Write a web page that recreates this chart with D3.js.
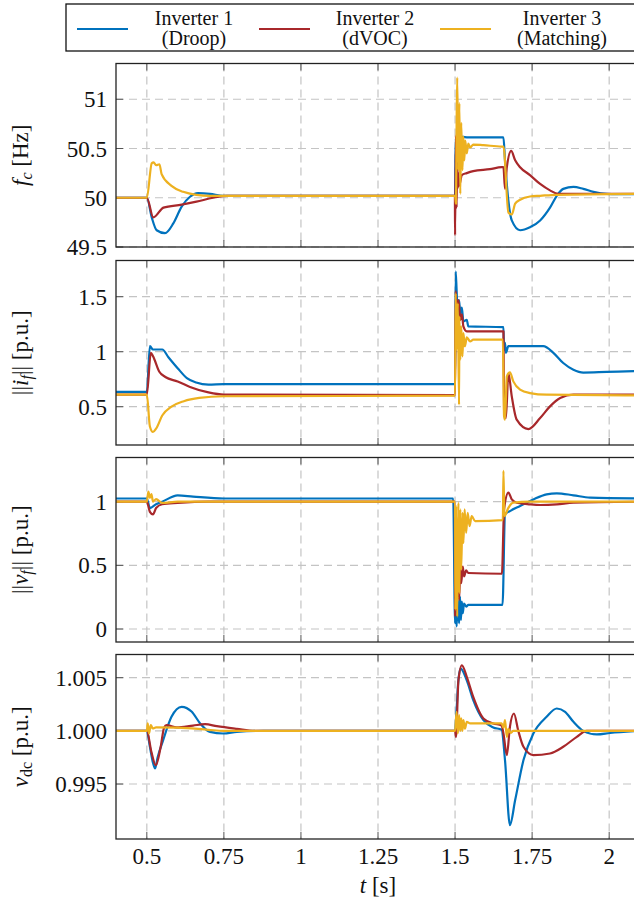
<!DOCTYPE html>
<html lang="en">
<head>
<meta charset="UTF-8">
<link rel="icon" href="data:,">
<style>
body { margin: 0; background: #fff; }
svg text { font-family: "Liberation Serif", "DejaVu Serif", serif; fill: #111; }
.tick-label { font-size: 23px; }
.axis-label { font-size: 23px; }
.legend-text { font-size: 20px; }
</style>
<script src="https://cdn.jsdelivr.net/npm/d3@7"></script>
</head>
<body>
<svg id="chart"></svg>
<script>
const W = 634, H = 905;

// series names / colours
const seriesNames = [["Inverter 1", "(Droop)"], ["Inverter 2", "(dVOC)"], ["Inverter 3", "(Matching)"]];
const seriesColors = ["#0072BD", "#A8282B", "#EDB120"];

// x ticks
const tTicks = [0.5, 0.75, 1, 1.25, 1.5, 1.75, 2];
const tTickLabels = ["0.5", "0.75", "1", "1.25", "1.5", "1.75", "2"];

// panel 1: f_c [Hz]  ([t, value])
const fcTicks = [49.5, 50, 50.5, 51];
const fcTickLabels = ["49.5", "50", "50.5", "51"];
const fcDroop = [[0.4,50],[0.5,50],[0.516,49.8],[0.532,49.67],[0.559,49.64],[0.586,49.74],[0.613,49.91],[0.64,50.01],[0.666,50.047],[0.705,50.04],[0.748,50.02],[1.5,50.02],
  [1.502,50.6],[1.506,50.45],[1.51,50.62],[1.515,50.56],[1.52,50.62],[1.543,50.612],[1.657,50.612],[1.662,50.38],[1.673,49.97],[1.684,49.77],[1.711,49.67],[1.743,49.70],
  [1.776,49.77],[1.808,49.90],[1.83,50.02],[1.851,50.09],[1.884,50.11],[1.916,50.09],[1.949,50.06],[1.992,50.04],[2.1,50.035]];
const fcDvoc = [[0.4,50],[0.5,50],[0.521,49.8],[0.554,49.9],[0.613,49.93],[0.661,49.96],[0.715,50.0],[0.76,50.02],[1.4995,50.02],
  [1.5,49.62],[1.503,50.63],[1.505,49.9],[1.507,50.4],[1.509,50.1],[1.511,50.25],[1.513,50.12],[1.516,50.15],[1.522,50.23],[1.538,50.25],[1.559,50.27],[1.613,50.29],[1.651,50.31],
  [1.657,50.31],[1.662,50.09],[1.668,50.31],[1.682,50.476],[1.695,50.38],[1.711,50.31],[1.743,50.23],[1.776,50.14],[1.808,50.075],[1.835,50.04],[2.1,50.04]];
const fcMatch = [[0.4,50],[0.5,50],[0.516,50.35],[0.522,50.36],[0.53,50.33],[0.541,50.34],[0.548,50.24],[0.58,50.12],[0.618,50.06],[0.66,50.03],[0.705,50.02],[1.5,50.02],
  [1.503,49.94],[1.505,50.72],[1.507,51.22],[1.511,50.28],[1.514,50.96],[1.517,50.04],[1.52,50.76],[1.524,50.28],[1.527,50.62],[1.53,50.38],[1.533,50.58],[1.538,50.45],
  [1.543,50.55],[1.549,50.51],[1.559,50.54],[1.592,50.534],[1.651,50.52],[1.657,50.52],[1.673,49.85],[1.684,49.83],[1.695,49.94],[1.711,49.98],[1.743,50.013],[1.776,50.02],
  [1.83,50.03],[2.1,50.04]];

// panel 2: ||i_f|| [p.u.]
const ifTicks = [0.5, 1, 1.5];
const ifTickLabels = ["0.5", "1", "1.5"];
const ifDroop = [[0.4,0.635],[0.5,0.635],[0.51,1.05],[0.52,1.02],[0.55,1.02],[0.57,0.95],[0.6,0.85],[0.63,0.76],[0.66,0.72],[0.7,0.7],[0.75,0.705],[1.5,0.705],
  [1.502,1.73],[1.505,1.56],[1.509,1.32],[1.513,1.47],[1.517,1.35],[1.522,1.40],[1.527,1.275],[1.538,1.29],[1.543,1.23],[1.657,1.224],
  [1.659,1.018],[1.662,1.08],[1.665,0.99],[1.673,1.05],[1.786,1.05],[1.819,0.99],[1.851,0.897],[1.884,0.836],[1.916,0.81],[1.992,0.816],[2.1,0.824]];
const ifDvoc = [[0.4,0.61],[0.5,0.61],[0.513,0.99],[0.52,0.96],[0.54,0.82],[0.56,0.77],[0.6,0.73],[0.64,0.68],[0.7,0.63],[0.75,0.61],[1.5,0.605],
  [1.502,1.55],[1.505,1.38],[1.511,1.47],[1.517,1.29],[1.522,1.34],[1.527,1.23],[1.538,1.185],[1.657,1.185],[1.659,0.473],[1.665,0.397],[1.673,0.806],[1.684,0.594],
  [1.7,0.382],[1.738,0.297],[1.776,0.397],[1.808,0.503],[1.841,0.579],[1.884,0.609],[2.1,0.61]];
const ifMatch = [[0.4,0.61],[0.5,0.61],[0.51,0.32],[0.52,0.27],[0.53,0.3],[0.55,0.42],[0.58,0.5],[0.62,0.55],[0.67,0.58],[0.75,0.595],[1.5,0.6],
  [1.502,1.53],[1.505,1.02],[1.509,1.44],[1.513,0.518],[1.514,1.32],[1.517,0.927],[1.52,1.23],[1.524,0.957],[1.527,1.17],[1.532,1.048],[1.538,1.13],[1.549,1.094],
  [1.559,1.109],[1.655,1.109],[1.659,0.412],[1.662,0.382],[1.668,0.776],[1.678,0.812],[1.689,0.73],[1.711,0.655],[1.743,0.624],[1.797,0.609],[2.1,0.603]];

// panel 3: ||v_f|| [p.u.]
const vfTicks = [0, 0.5, 1];
const vfTickLabels = ["0", "0.5", "1"];
const vfDroop = [[0.4,1.025],[0.5,1.025],[0.51,0.95],[0.53,0.98],[0.55,1.0],[0.6,1.05],[0.65,1.04],[0.75,1.025],[1.494,1.025],
  [1.5,0.045],[1.503,0.255],[1.505,0.02],[1.509,0.229],[1.513,0.045],[1.516,0.255],[1.519,0.07],[1.522,0.216],[1.525,0.124],[1.529,0.2],[1.536,0.176],[1.543,0.19],
  [1.654,0.19],[1.662,0.9],[1.678,0.926],[1.711,0.966],[1.754,1.018],[1.797,1.058],[1.83,1.066],[1.884,1.05],[1.938,1.032],[2.1,1.026]];
const vfDvoc = [[0.4,1.0],[0.5,1.0],[0.51,0.92],[0.52,0.9],[0.53,0.95],[0.55,0.98],[0.6,0.99],[0.7,1.0],[1.4995,1.0],
  [1.5,0.097],[1.502,0.571],[1.505,0.15],[1.509,0.518],[1.513,0.229],[1.517,0.466],[1.52,0.36],[1.525,0.49],[1.529,0.413],[1.536,0.46],[1.543,0.44],[1.652,0.434],
  [1.659,0.94],[1.673,1.071],[1.684,1.018],[1.7,0.992],[1.743,0.979],[1.776,0.974],[1.83,0.979],[1.884,0.992],[2.1,1.0]];
const vfMatch = [[0.4,1.0],[0.5,1.0],[0.505,1.08],[0.51,1.03],[0.515,1.06],[0.52,1.0],[0.53,1.02],[0.55,0.99],[0.6,1.0],[1.5,1.0],
  [1.501,0.15],[1.504,0.965],[1.507,0.097],[1.511,0.992],[1.514,0.28],[1.517,0.94],[1.52,0.466],[1.524,0.913],[1.527,0.676],[1.531,0.94],[1.536,0.755],[1.541,0.913],
  [1.547,0.808],[1.554,0.887],[1.565,0.847],[1.655,0.855],[1.657,1.242],[1.66,0.887],[1.673,0.952],[1.689,0.992],[1.743,1.0],[2.1,1.0]];

// panel 4: v_dc [p.u.]
const vdcTicks = [0.995, 1.0, 1.005];
const vdcTickLabels = ["0.995", "1.000", "1.005"];
const vdcDroop = [[0.4,1],[0.5,1],[0.51,0.9985],[0.52,0.997],[0.527,0.99647],[0.535,0.9975],[0.553,0.99913],[0.58,1.00132],[0.613,1.00226],[0.646,1.00179],[0.673,1.0007],
  [0.705,0.9999],[0.748,0.99975],[0.792,0.9999],[0.878,1.0],[1.5,1.0],[1.505,1.002],[1.51,1.0045],[1.518,1.00586],[1.538,1.00476],[1.559,1.00289],[1.592,1.001],
  [1.624,1.00032],[1.651,1.0001],[1.662,0.99725],[1.678,0.99114],[1.695,0.99349],[1.722,0.99725],[1.754,0.99975],[1.797,1.00132],[1.83,1.0021],[1.857,1.00179],
  [1.884,1.00085],[1.916,1.0],[1.96,0.99966],[2.003,0.9998],[2.1,1.0]];
const vdcDvoc = [[0.4,1],[0.5,1],[0.515,0.998],[0.529,0.99677],[0.545,0.9985],[0.556,1.0003],[0.564,1.00054],[0.597,1.00032],[0.65,1.0005],[0.689,1.00063],[0.727,1.00044],
  [0.792,1.00019],[0.85,1.0],[1.5,1.0],[1.503,0.99944],[1.511,1.00476],[1.522,1.00617],[1.538,1.00508],[1.559,1.0032],[1.592,1.00117],[1.624,1.0007],[1.651,1.0005],
  [1.657,0.99975],[1.668,0.99772],[1.678,1.00038],[1.691,1.00163],[1.705,1.00002],[1.722,0.9985],[1.754,0.99772],[1.808,0.99787],[1.851,0.9985],[1.895,0.99944],
  [1.927,1.0],[2.1,1.0]];
const vdcMatch = [[0.4,1],[0.5,1],[0.503,1.0007],[0.507,0.99975],[0.513,1.00054],[0.519,1.00023],[0.53,1.00032],[0.6,1.0003],[0.7,1.0001],[0.75,1.0],[1.5,1.0],
  [1.505,1.00179],[1.509,0.99975],[1.513,1.00148],[1.517,1.0],[1.52,1.00117],[1.524,1.0],[1.527,1.001],[1.532,1.0002],[1.538,1.00085],[1.549,1.0007],[1.651,1.0007],
  [1.657,1.0003],[1.662,1.001],[1.668,0.99944],[1.673,1.0002],[1.68,0.9998],[1.689,1.0],[2.1,1.0]];

const panels = [
  { top: 63.5, bottom: 247, domain: [49.5, 51.363], ticks: fcTicks, labels: fcTickLabels, series: [fcDroop, fcDvoc, fcMatch], ylabel: "fc" },
  { top: 260.5, bottom: 445, domain: [0.152, 1.829], ticks: ifTicks, labels: ifTickLabels, series: [ifDroop, ifDvoc, ifMatch], ylabel: "if" },
  { top: 457.5, bottom: 642, domain: [-0.102, 1.347], ticks: vfTicks, labels: vfTickLabels, series: [vfDroop, vfDvoc, vfMatch], ylabel: "vf" },
  { top: 654.5, bottom: 839, domain: [0.98983, 1.00718], ticks: vdcTicks, labels: vdcTickLabels, series: [vdcDroop, vdcDvoc, vdcMatch], ylabel: "vdc" }
];

const left = 116, right = 640;
const x = d3.scaleLinear().domain([0.4, 2.1]).range([left, right]);

const svg = d3.select("#chart").attr("width", W).attr("height", H);

panels.forEach((p, i) => {
  const y = d3.scaleLinear().domain(p.domain).range([p.bottom, p.top]);
  const g = svg.append("g");

  g.append("clipPath").attr("id", `clip${i}`)
    .append("rect").attr("x", left).attr("y", p.top).attr("width", right - left).attr("height", p.bottom - p.top);

  // grid
  g.selectAll(".vgrid").data(tTicks).enter().append("line")
    .attr("x1", d => x(d)).attr("x2", d => x(d)).attr("y1", p.top).attr("y2", p.bottom)
    .attr("stroke", "#c4c4c4").attr("stroke-width", 1.2).attr("stroke-dasharray", "8,5");
  g.selectAll(".hgrid").data(p.ticks).enter().append("line")
    .attr("x1", left).attr("x2", right).attr("y1", d => y(d)).attr("y2", d => y(d))
    .attr("stroke", "#c4c4c4").attr("stroke-width", 1.2).attr("stroke-dasharray", "8,5");

  // inward ticks
  tTicks.forEach(t => {
    g.append("line").attr("x1", x(t)).attr("x2", x(t)).attr("y1", p.bottom).attr("y2", p.bottom - 7).attr("stroke", "#555").attr("stroke-width", 1);
    g.append("line").attr("x1", x(t)).attr("x2", x(t)).attr("y1", p.top).attr("y2", p.top + 7).attr("stroke", "#555").attr("stroke-width", 1);
  });
  p.ticks.forEach(v => {
    g.append("line").attr("x1", left).attr("x2", left + 7).attr("y1", y(v)).attr("y2", y(v)).attr("stroke", "#555").attr("stroke-width", 1);
  });

  // data
  const line = d3.line().x(d => x(d[0])).y(d => y(d[1])).curve(d3.curveMonotoneX);
  const lines = g.append("g").attr("clip-path", `url(#clip${i})`);
  p.series.forEach((s, k) => {
    lines.append("path").datum(s).attr("d", line)
      .attr("fill", "none").attr("stroke", seriesColors[k]).attr("stroke-width", 2.2)
      .attr("stroke-linejoin", "round");
  });

  // frame
  g.append("rect").attr("x", left).attr("y", p.top).attr("width", right - left).attr("height", p.bottom - p.top)
    .attr("fill", "none").attr("stroke", "#222").attr("stroke-width", 1.3);

  // y tick labels
  g.selectAll(".ylab").data(p.ticks).enter().append("text")
    .attr("class", "tick-label").attr("x", 107).attr("y", d => y(d)).attr("dy", "0.35em")
    .attr("text-anchor", "end").text((d, j) => p.labels[j]);

  // y axis label
  const cy = (p.top + p.bottom) / 2;
  const lab = g.append("text").attr("class", "axis-label")
    .attr("transform", `translate(28,${cy}) rotate(-90)`).attr("text-anchor", "middle");
  if (p.ylabel === "fc") {
    lab.append("tspan").attr("font-style", "italic").text("f");
    lab.append("tspan").attr("font-style", "italic").attr("font-size", "16px").attr("dy", 4).text("c");
    lab.append("tspan").attr("dy", -4).text(" [Hz]");
  } else if (p.ylabel === "if" || p.ylabel === "vf") {
    lab.append("tspan").text("||");
    lab.append("tspan").attr("font-style", "italic").text(p.ylabel === "if" ? "i" : "v");
    lab.append("tspan").attr("font-style", "italic").attr("font-size", "16px").attr("dy", 4).text("f");
    lab.append("tspan").attr("dy", -4).text("|| [p.u.]");
  } else {
    lab.append("tspan").attr("font-style", "italic").text("v");
    lab.append("tspan").attr("font-size", "16px").attr("dy", 4).text("dc");
    lab.append("tspan").attr("dy", -4).text(" [p.u.]");
  }

  // x tick labels on last panel
  if (i === panels.length - 1) {
    g.selectAll(".xlab").data(tTicks).enter().append("text")
      .attr("class", "tick-label").attr("x", d => x(d)).attr("y", 864)
      .attr("text-anchor", "middle").text((d, j) => tTickLabels[j]);
    const xl = g.append("text").attr("class", "axis-label").attr("x", (left + right) / 2).attr("y", 893).attr("text-anchor", "middle");
    xl.append("tspan").attr("font-style", "italic").text("t");
    xl.append("tspan").text(" [s]");
  }
});

// legend
const leg = svg.append("g");
leg.append("rect").attr("x", 66).attr("y", 4).attr("width", 600).attr("height", 47)
  .attr("fill", "#fff").attr("stroke", "#111").attr("stroke-width", 1.3);
const legLineX = [77, 259, 440];
const legTextX = [194, 375, 562];
seriesNames.forEach((n, k) => {
  leg.append("line").attr("x1", legLineX[k]).attr("x2", legLineX[k] + 51).attr("y1", 29).attr("y2", 29)
    .attr("stroke", seriesColors[k]).attr("stroke-width", 2.2);
  leg.append("text").attr("class", "legend-text").attr("x", legTextX[k]).attr("y", 25).attr("text-anchor", "middle").text(n[0]);
  leg.append("text").attr("class", "legend-text").attr("x", legTextX[k]).attr("y", 45).attr("text-anchor", "middle").text(n[1]);
});
</script>
</body>
</html>
